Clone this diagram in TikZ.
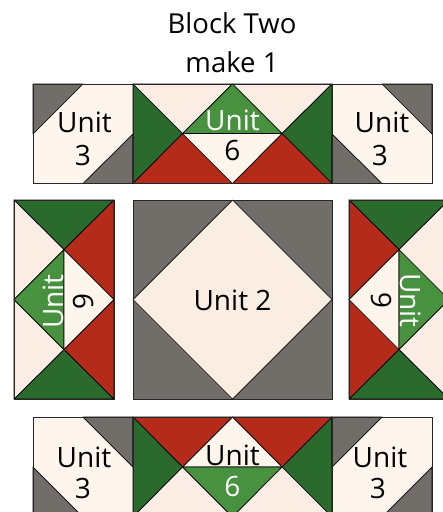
\documentclass[tikz,border=0pt]{standalone}
\usepackage{fontspec}
\setmainfont{Open Sans}
\definecolor{gry}{HTML}{716E6A}
\definecolor{crm}{HTML}{FEF6EC}
\definecolor{pnk}{HTML}{FCEDE4}
\definecolor{dia}{HTML}{FAEDE1}
\definecolor{dgr}{HTML}{2B6A2D}
\definecolor{mgr}{HTML}{48913F}
\definecolor{rd}{HTML}{B52B1A}
\begin{document}
\begin{tikzpicture}[x=1pt,y=-1pt,
  pc/.style={draw=black,line width=0.7pt,line join=round},
  frame/.style={draw=black!85,line width=1pt},
  lbl/.style={font=\fontsize{28}{28}\selectfont,inner sep=0pt,anchor=base},
  ttl/.style={font=\fontsize{27.5}{27.5}\selectfont,inner sep=0pt,anchor=base}]
\useasboundingbox (0,0) rectangle (443,512);
\clip (0,0) rectangle (443,512);
% ---------- top row ----------
% Unit 3 left
\fill[crm] (33,84) rectangle (133,183.5);
\filldraw[pc,fill=gry] (33,84) -- (83,84) -- (33,134) -- cycle;
\filldraw[pc,fill=gry] (133,134) -- (133,183.5) -- (83,183.5) -- cycle;
\draw[frame] (33,84) rectangle (133,183.5);
% Unit 6 top
\filldraw[pc,fill=pnk] (133,84) -- (232.5,84) -- (182.5,133.5) -- cycle;
\filldraw[pc,fill=pnk] (232.5,84) -- (332,84) -- (282,133.5) -- cycle;
\filldraw[pc,fill=mgr] (232.5,84) -- (182.5,133.5) -- (282,133.5) -- cycle;
\filldraw[pc,fill=dgr] (133,84) -- (133,183.5) -- (182.5,133.5) -- cycle;
\filldraw[pc,fill=dgr] (332,84) -- (332,183.5) -- (282,133.5) -- cycle;
\filldraw[pc,fill=rd] (182.5,133.5) -- (133,183.5) -- (232.5,183.5) -- cycle;
\filldraw[pc,fill=rd] (282,133.5) -- (232.5,183.5) -- (332,183.5) -- cycle;
\filldraw[pc,fill=crm] (182.5,133.5) -- (282,133.5) -- (232.5,183.5) -- cycle;
\draw[frame] (133,84) rectangle (332,183.5);
% Unit 3 right
\fill[crm] (332,84) rectangle (432,183.5);
\filldraw[pc,fill=gry] (382,84) -- (432,84) -- (432,134) -- cycle;
\filldraw[pc,fill=gry] (332,134) -- (332,183.5) -- (382,183.5) -- cycle;
\draw[frame] (332,84) rectangle (432,183.5);
% ---------- middle row ----------
% left vertical Unit 6
\filldraw[pc,fill=dgr] (14,200) -- (114,200) -- (64,249.5) -- cycle;
\filldraw[pc,fill=dgr] (14,399) -- (114,399) -- (64,349.5) -- cycle;
\filldraw[pc,fill=pnk] (14,200) -- (64,249.5) -- (14,299.5) -- cycle;
\filldraw[pc,fill=pnk] (14,299.5) -- (64,349.5) -- (14,399) -- cycle;
\filldraw[pc,fill=mgr] (14,299.5) -- (64,249.5) -- (64,349.5) -- cycle;
\filldraw[pc,fill=crm] (64,249.5) -- (114,299.5) -- (64,349.5) -- cycle;
\filldraw[pc,fill=rd] (114,200) -- (114,299.5) -- (64,249.5) -- cycle;
\filldraw[pc,fill=rd] (114,299.5) -- (114,399) -- (64,349.5) -- cycle;
\draw[frame] (14,200) rectangle (114,399);
% Unit 2
\filldraw[pc,fill=gry] (133,200) rectangle (332,399);
\filldraw[pc,fill=dia] (232.5,200) -- (332,299.5) -- (232.5,399) -- (133,299.5) -- cycle;
\draw[frame] (133,200) rectangle (332,399);
% right vertical Unit 6
\filldraw[pc,fill=dgr] (349,200) -- (449,200) -- (399,249.5) -- cycle;
\filldraw[pc,fill=dgr] (349,399) -- (449,399) -- (399,349.5) -- cycle;
\filldraw[pc,fill=rd] (349,200) -- (399,249.5) -- (349,299.5) -- cycle;
\filldraw[pc,fill=rd] (349,299.5) -- (399,349.5) -- (349,399) -- cycle;
\filldraw[pc,fill=crm] (349,299.5) -- (399,249.5) -- (399,349.5) -- cycle;
\filldraw[pc,fill=mgr] (399,249.5) -- (449,299.5) -- (399,349.5) -- cycle;
\filldraw[pc,fill=pnk] (449,200) -- (449,299.5) -- (399,249.5) -- cycle;
\filldraw[pc,fill=pnk] (449,299.5) -- (449,399) -- (399,349.5) -- cycle;
\draw[frame] (349,200) rectangle (449,399);
% ---------- bottom row ----------
% Unit 3 left
\fill[crm] (33,417) rectangle (133,517);
\filldraw[pc,fill=gry] (83,417) -- (133,417) -- (133,467) -- cycle;
\filldraw[pc,fill=gry] (33,467) -- (33,517) -- (83,517) -- cycle;
\draw[frame] (33,417) rectangle (133,517);
% Unit 6 bottom
\filldraw[pc,fill=rd] (133,417) -- (232.5,417) -- (182.5,467) -- cycle;
\filldraw[pc,fill=rd] (232.5,417) -- (332,417) -- (282,467) -- cycle;
\filldraw[pc,fill=crm] (232.5,417) -- (182.5,467) -- (282,467) -- cycle;
\filldraw[pc,fill=dgr] (133,417) -- (133,517) -- (182.5,467) -- cycle;
\filldraw[pc,fill=dgr] (332,417) -- (332,517) -- (282,467) -- cycle;
\filldraw[pc,fill=mgr] (182.5,467) -- (282,467) -- (232.5,517) -- cycle;
\filldraw[pc,fill=pnk] (182.5,467) -- (133,517) -- (232.5,517) -- cycle;
\filldraw[pc,fill=pnk] (282,467) -- (232.5,517) -- (332,517) -- cycle;
\draw[frame] (133,417) rectangle (332,517);
% Unit 3 right
\fill[crm] (332,417) rectangle (432,517);
\filldraw[pc,fill=gry] (332,417) -- (382,417) -- (332,467) -- cycle;
\filldraw[pc,fill=gry] (432,467) -- (432,517) -- (382,517) -- cycle;
\draw[frame] (332,417) rectangle (432,517);
% ---------- labels ----------
\node[ttl] (t1) at (232,33) {Block Two};
\node[ttl] (t2) at (232,72) {make 1};
\node[lbl] (a1) at (84.5,132.5) {Unit};
\node[lbl] (a2) at (83,165) {3};
\node[lbl,text=white] (b1) at (232.5,130) {Unit};
\node[lbl] (b2) at (232.5,160.5) {6};
\node[lbl] (c1) at (382,132.5) {Unit};
\node[lbl] (c2) at (380,165) {3};
\node[lbl,rotate=90,text=white] (d1) at (63,301.5) {Unit};
\node[lbl,rotate=-90] (d2) at (73.5,301.5) {6};
\node[lbl] (e1) at (232.5,310.5) {Unit 2};
\node[lbl,rotate=-90,text=white] (f1) at (400.5,300.5) {Unit};
\node[lbl,rotate=90] (f2) at (391.5,300) {6};
\node[lbl] (g1) at (84,467) {Unit};
\node[lbl] (g2) at (83,498) {3};
\node[lbl] (h1) at (232.5,465) {Unit};
\node[lbl,text=white] (h2) at (232.5,496) {6};
\node[lbl] (k1) at (380,467) {Unit};
\node[lbl] (k2) at (378,498) {3};
\end{tikzpicture}
\end{document}
